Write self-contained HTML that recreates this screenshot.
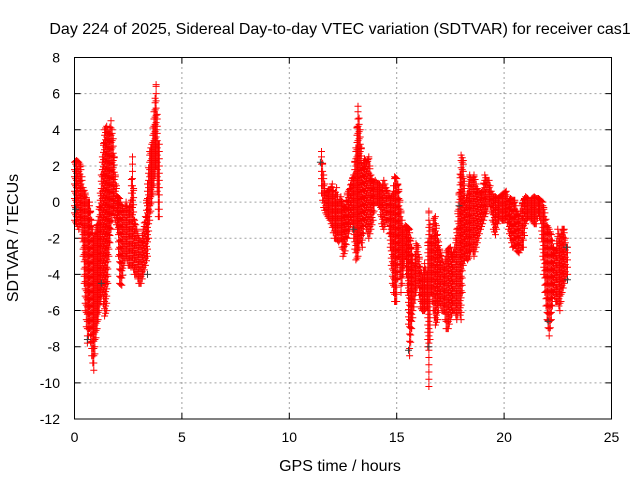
<!DOCTYPE html>
<html><head><meta charset="utf-8"><style>
html,body{margin:0;padding:0;background:#fff;}
svg text{font-family:"Liberation Sans",sans-serif;font-size:14px;fill:#000;}
svg text.big{font-size:16px;}
</style></head><body>
<svg id="chart" width="640" height="480" viewBox="0 0 640 480" xmlns="http://www.w3.org/2000/svg">
<rect width="640" height="480" fill="#fff"/>
<g id="grid"></g>
<g id="ticks"></g>
<g id="marks"></g>
<rect x="74.5" y="57.5" width="537" height="361.5" fill="none" stroke="#000" stroke-width="1"/>
<text class="big" x="340" y="34" text-anchor="middle">Day 224 of 2025, Sidereal Day-to-day VTEC variation (SDTVAR) for receiver cas1</text>
<text class="big" x="340" y="471" text-anchor="middle">GPS time / hours</text>
<text class="big" x="18" y="238" text-anchor="middle" transform="rotate(-90 18 238)">SDTVAR / TECUs</text>
</svg>
<script>
const xTicks=[0,5,10,15,20,25];
const yTicks=[8,6,4,2,0,-2,-4,-6,-8,-10,-12];
// bins: time (hours), lower value, upper value (TECU)
const binTimes=[0,0.1,0.2,0.3,0.4,0.5,0.6,0.7,0.8,0.9,1.0,1.1,1.2,1.3,1.4,1.5,1.6,1.7,1.8,1.9,2.0,2.1,2.2,2.3,2.4,2.5,2.6,2.7,2.8,2.9,3.0,3.1,3.2,3.3,3.4,3.5,3.6,3.7,3.8,3.9,
11.5,11.6,11.7,11.8,11.9,12.0,12.1,12.2,12.3,12.4,12.5,12.6,12.7,12.8,12.9,13.0,13.1,13.2,13.3,13.4,13.5,13.6,13.7,13.8,13.9,14.0,14.1,14.2,14.3,14.4,14.5,14.6,14.7,14.8,14.9,15.0,15.1,15.2,15.3,15.4,15.5,15.6,15.7,15.8,15.9,16.0,16.1,16.2,16.3,16.4,16.5,16.6,16.7,16.8,16.9,17.0,17.1,17.2,17.3,17.4,17.5,17.6,17.7,17.8,17.9,18.0,18.1,18.2,18.3,18.4,18.5,18.6,18.7,18.8,18.9,19.0,19.1,19.2,19.3,19.4,19.5,19.6,19.7,19.8,19.9,20.0,20.1,20.2,20.3,20.4,20.5,20.6,20.7,20.8,20.9,21.0,21.1,21.2,21.3,21.4,21.5,21.6,21.7,21.8,21.9,22.0,22.1,22.2,22.3,22.4,22.5,22.6,22.7,22.8,22.9];
const binLow=[-1,-1.2,-1.5,-1,-3,-6,-7.8,-7,-8.5,-9.3,-7.5,-6.5,-5.5,-5,-6.3,-6,-3,-1.5,-0.5,-1,-1.5,-4.5,-4.6,-3.5,-3,-3.5,-3.5,-3.5,-4,-4,-4.5,-4.5,-4,-3.5,-3,-1,0,1,2,-0.8,
0.5,-0.3,-0.6,-0.8,-1,-1.4,-2,-2,-2.2,-2,-3,-2.7,-2,-1.5,-1,-2,-3.2,-3,-2,-2.5,-1,-1.5,-2,-1.5,-1,0,0,-0.2,-1.2,-1.5,-1,-1,-2.5,-4.5,-5.5,-5.5,-3,-5,-4,-3,-5,-8.5,-7,-5.8,-5,-4.5,-5.8,-6,-6,-5.8,-10.2,-5,-6,-6.8,-6.5,-5.5,-6,-6,-7,-7,-6.5,-6,-6,-6.5,-6,-6.5,-3.5,-3,-3.2,-3,-2.5,-3,-2.5,-2,-1.5,-1.2,-0.8,-0.5,0,-0.5,-1.5,-1.8,-1.2,-0.8,-1,-1,-0.8,-1.5,-2,-2.5,-2.4,-2.7,-2.8,-2.5,-2.5,-1.2,-0.8,-0.8,-1,-1.2,-1.2,-0.6,-1,-3,-5,-6.5,-7.4,-6.5,-5,-5.5,-5.5,-6,-5,-4.5,-4];
const binHigh=[2.2,2.3,2.2,2,0.8,0.5,0,0,-1,-2,-1.5,-1,0.5,2.5,4,4.2,3.8,4.5,3.5,1.5,0.3,0.2,-0.2,-0.5,0,-0.5,0,2.5,-1,-1.5,-2,-2.2,-1.5,-0.8,1,2.8,3.2,5,6.5,3.2,
2.8,1.5,0.5,0.6,0.7,1,0.3,0.8,0,0.3,-0.2,-0.3,0.5,0.7,1.2,1.5,3,5.3,4,2,2.4,2.2,2.5,1.5,1,1.2,1,1,0.8,1.2,0.8,0.5,0.2,0.4,1.4,1.3,0.7,-0.5,-1.5,-1.3,-1.4,-1.5,-2.5,-3.5,-2.3,-2.5,-3.6,-4.2,-3.4,-4,-0.5,-2,-1,-0.8,-1.8,-2.6,-3,-3.6,-2.8,-2.6,-2.5,-3,-2.5,-1.5,0.5,2.6,2.3,0,0.5,1.5,1.2,1.5,1,0.5,0.5,0.6,1.5,1.2,1.2,0.6,0.3,0.3,0.2,0.3,0.4,0.5,0.6,0,0.2,0.1,0.1,-0.5,-0.8,-0.2,0.1,0.3,0.2,0,0.2,0.3,0.2,0.2,0.1,0,-0.6,-1.3,-1.5,-1.8,-2.5,-2.8,-1.5,-2,-1.5,-1.5,-2.5];
// second (dark) series, sparse points
const darkTimes=[0.05,0.6,1.25,3.4,11.45,13.0,15.55,16.5,17.9,22.05,22.9,22.95];
const darkValues=[-0.4,-7.6,-4.5,-4,2.2,-1.5,-8.2,-8,-0.2,-6.6,-2.5,-4.3];

const X0=74.5,X1=611.5,Y0=419,Y1=57.5;
const xs=t=>X0+(t-0)/(25-0)*(X1-X0);
const ys=v=>Y0-(v-(-12))/(8-(-12))*(Y0-Y1);
const NS='http://www.w3.org/2000/svg';
const grid=document.getElementById('grid'),ticks=document.getElementById('ticks'),marks=document.getElementById('marks');
function mk(tag,attrs,parent){const e=document.createElementNS(NS,tag);for(const k in attrs)e.setAttribute(k,attrs[k]);parent.appendChild(e);return e;}
xTicks.forEach(t=>{
  const x=xs(t);
  if(t>0&&t<25){const g=mk('line',{x1:x,x2:x,y1:Y0,y2:Y1,stroke:'#a0a0a0','stroke-dasharray':'2,3'},grid);
  
  }
  const tk=mk('path',{d:`M${x} ${Y0}v-6M${x} ${Y1}v6`,stroke:'#000'},ticks);
  
  
  const lb=mk('text',{x:x,y:442,'text-anchor':'middle'},ticks);lb.textContent=t;
  
  
});
yTicks.forEach(v=>{
  const y=ys(v);
  if(v>-12&&v<8){const g=mk('line',{x1:X0,x2:X1,y1:y,y2:y,stroke:'#a0a0a0','stroke-dasharray':'2,3'},grid);
  
  }
  const tk=mk('path',{d:`M${X0} ${y}h6M${X1} ${y}h-6`,stroke:'#000'},ticks);
  
  
  const lb=mk('text',{x:60,y:y+5,'text-anchor':'end'},ticks);lb.textContent=v;
  
  
});
function plus(x,y){return `M${(x-3.5).toFixed(1)} ${y.toFixed(1)}h7M${x.toFixed(1)} ${(y-3.5).toFixed(1)}v7`;}
let d='';
for(let i=0;i<binTimes.length;i++){
  const t=binTimes[i];
  const hasNext=i+1<binTimes.length&&binTimes[i+1]-t<0.15;
  for(let s=0;s<2;s++){
    const f=s/2;
    const lo=hasNext?binLow[i]+(binLow[i+1]-binLow[i])*f:binLow[i];
    const hi=hasNext?binHigh[i]+(binHigh[i+1]-binHigh[i])*f:binHigh[i];
    const tt=t+f*0.1;
    for(let v=lo;v<=hi+0.01;v+=0.4){d+=plus(xs(tt),ys(v));}
    d+=plus(xs(tt),ys(hi));
  }
}
const red=mk('path',{d:d,stroke:'#ff0000','stroke-width':1,fill:'none'},marks);


let d2='';
darkTimes.forEach((t,i)=>{d2+=plus(xs(t),ys(darkValues[i]));});
const dark=mk('path',{d:d2,stroke:'#404040','stroke-width':1,fill:'none'},marks);


</script>
</body></html>
